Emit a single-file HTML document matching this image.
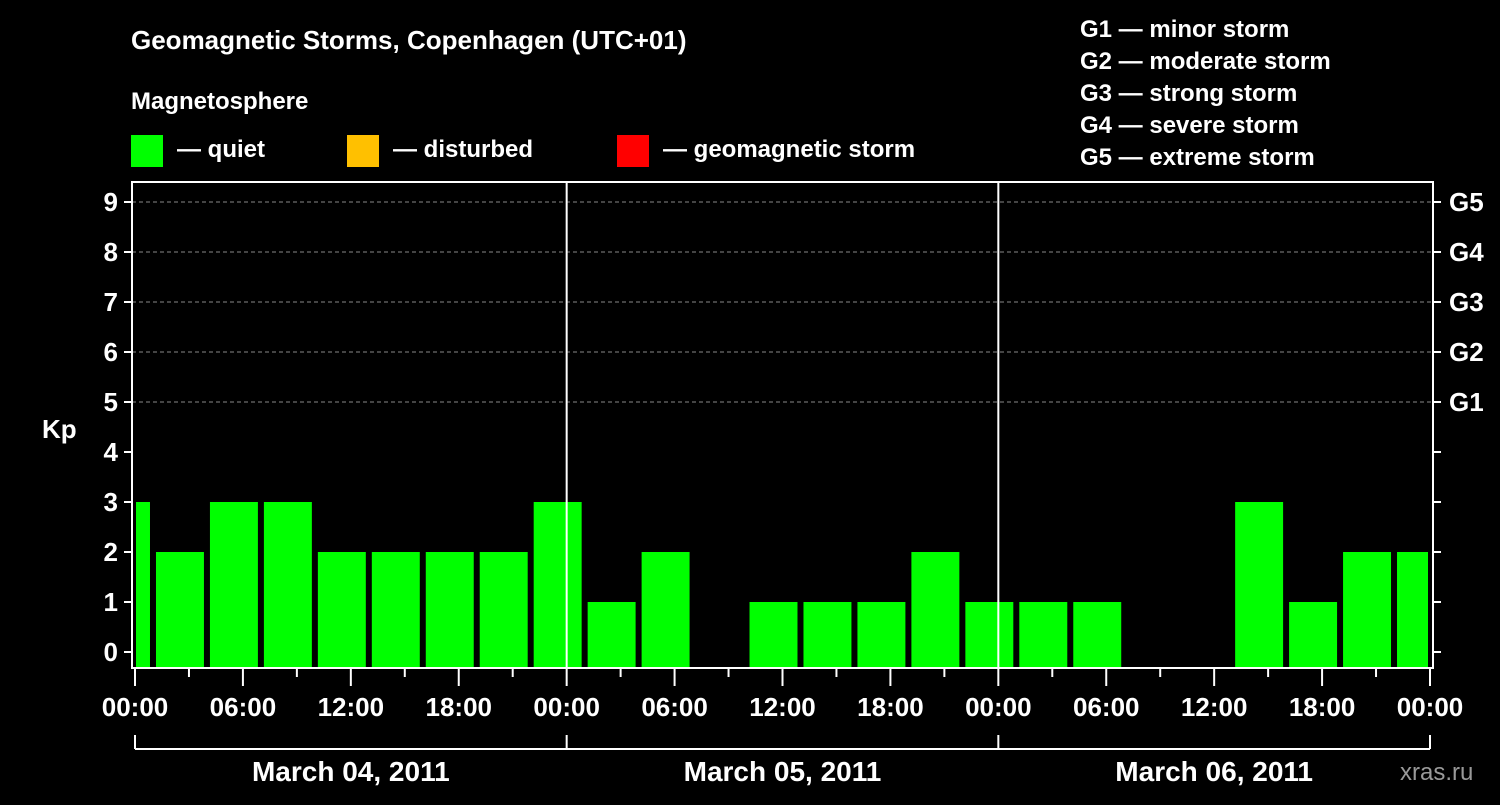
<!DOCTYPE html>
<html><head><meta charset="utf-8"><style>
body{margin:0;background:#000;}
svg text{font-family:"Liberation Sans",Arial,sans-serif;font-weight:bold;fill:#fff;}
</style></head><body>
<svg id="chart" width="1500" height="800" xmlns="http://www.w3.org/2000/svg">
<rect width="1500" height="800" fill="#000"/>
<text x="131" y="49" font-size="26">Geomagnetic Storms, Copenhagen (UTC+01)</text>
<text x="131" y="109" font-size="24">Magnetosphere</text>
<g>
<rect x="131" y="135" width="32" height="32" fill="#00ff00"/>
<text x="177" y="157" font-size="24">— quiet</text>
<rect x="347" y="135" width="32" height="32" fill="#ffc000"/>
<text x="393" y="157" font-size="24">— disturbed</text>
<rect x="617" y="135" width="32" height="32" fill="#ff0000"/>
<text x="663" y="157" font-size="24">— geomagnetic storm</text>
</g>
<g font-size="24">
<text x="1080" y="37">G1 — minor storm</text>
<text x="1080" y="69">G2 — moderate storm</text>
<text x="1080" y="101">G3 — strong storm</text>
<text x="1080" y="133">G4 — severe storm</text>
<text x="1080" y="165">G5 — extreme storm</text>
</g>
<text x="42" y="438" font-size="26">Kp</text>
<g id="plot"></g>
<text x="1400" y="780" font-size="24" fill="#888" style="fill:#999;font-weight:normal">xras.ru</text>
</svg>
<script>
const kpValues=[3,2,3,3,2,2,2,2,3,1,2,0,1,1,1,2,1,1,1,0,0,3,1,2,2];
const barStartHours=[-2,1,4,7,10,13,16,19,22,25,28,31,34,37,40,43,46,49,52,55,58,61,64,67,70];
const yTicks=[0,1,2,3,4,5,6,7,8,9];
const gLabels=["G1","G2","G3","G4","G5"];
const gLevels=[5,6,7,8,9];
const xTickLabels=["00:00","06:00","12:00","18:00","00:00","06:00","12:00","18:00","00:00","06:00","12:00","18:00","00:00"];
const dayLabels=["March 04, 2011","March 05, 2011","March 06, 2011"];
const NS="http://www.w3.org/2000/svg";
const g=document.getElementById('plot');
const X=h=>135+h*17.986;
const Y=v=>652-50*v;
const L=132,R=1433,T=182,B=668;
function mk(tag,attrs,parent){const e=document.createElementNS(NS,tag);for(const k in attrs)e.setAttribute(k,attrs[k]);(parent||g).appendChild(e);return e;}
// grid
gLevels.forEach(v=>{const e=mk('line',{x1:L,x2:R,y1:Y(v),y2:Y(v),stroke:'#888','stroke-dasharray':'4,3','stroke-width':1});

});
// bars
kpValues.forEach((v,i)=>{
 if(v<=0)return;
 let x1=Math.max(X(barStartHours[i])+3,L+4),x2=Math.min(X(barStartHours[i]+3)-3,R-5);
 const c=v>=5?'#ff0000':(v>=4?'#ffc000':'#00ff00');
 const e=mk('rect',{x:x1,y:Y(v),width:x2-x1,height:B-1-Y(v),fill:c});
 
 
});
// day separators
[24,48].forEach(h=>{const e=mk('line',{x1:X(h),x2:X(h),y1:T,y2:B,stroke:'#fff','stroke-width':2});

});
// frame
const fr=mk('rect',{x:L,y:T,width:R-L,height:B-T,fill:'none',stroke:'#fff','stroke-width':2});


// y ticks
yTicks.forEach(v=>{
 mk('line',{x1:L-8,x2:L,y1:Y(v),y2:Y(v),stroke:'#fff','stroke-width':2});
 mk('line',{x1:R,x2:R+8,y1:Y(v),y2:Y(v),stroke:'#fff','stroke-width':2});
 const t=mk('text',{x:L-14,y:Y(v)+9,'font-size':26,'text-anchor':'end'});t.textContent=v;
 
 
});
gLevels.forEach((v,i)=>{const t=mk('text',{x:R+16,y:Y(v)+9,'font-size':26});t.textContent=gLabels[i];
 
 });
// x ticks
for(let h=0;h<=72;h+=3){const big=h%6===0;mk('line',{x1:X(h),x2:X(h),y1:B,y2:big?686:677,stroke:'#fff','stroke-width':2});}
xTickLabels.forEach((s,i)=>{const t=mk('text',{x:X(i*6),y:716,'font-size':26,'text-anchor':'middle'});t.textContent=s;
 
 });
// day bracket
mk('line',{x1:X(0),x2:X(72),y1:749,y2:749,stroke:'#fff','stroke-width':2});
[0,24,48,72].forEach(h=>mk('line',{x1:X(h),x2:X(h),y1:735,y2:749,stroke:'#fff','stroke-width':2}));
dayLabels.forEach((s,i)=>{const t=mk('text',{x:X(i*24+12),y:781,'font-size':28,'text-anchor':'middle'});t.textContent=s;
 
 });
</script>
</body></html>
